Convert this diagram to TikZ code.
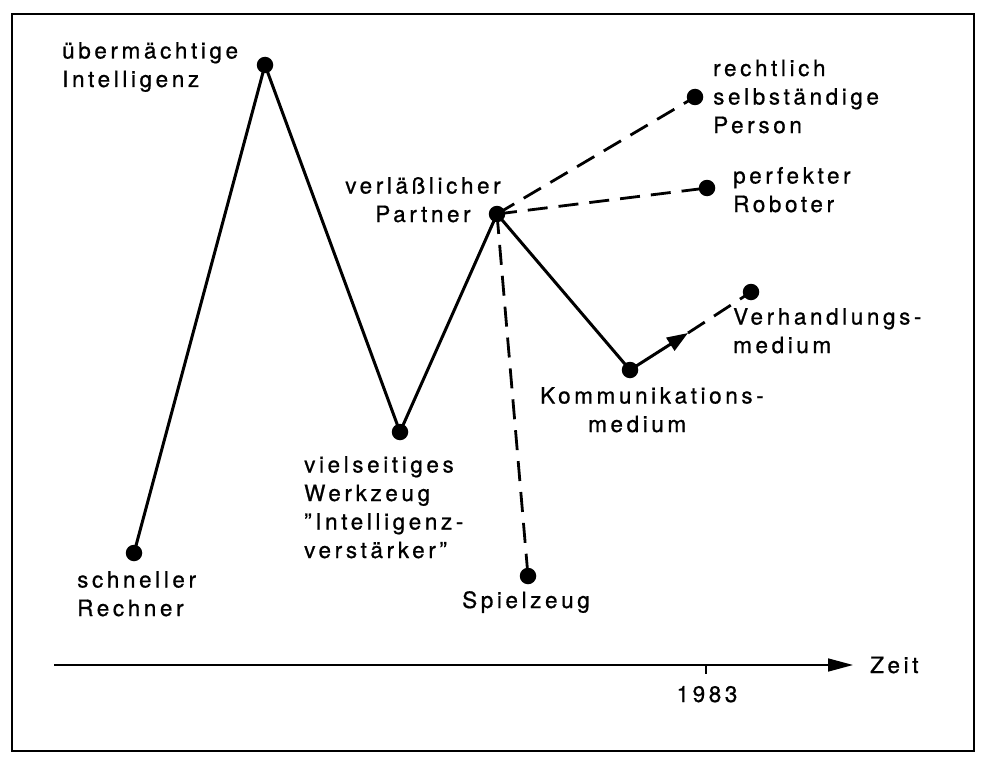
\documentclass[tikz,border=0pt]{standalone}
\usepackage{fontspec}
\setmainfont[LetterSpace=16,FakeBold=0.8]{TeX Gyre Heros}
\usetikzlibrary{arrows.meta}
\tikzset{
  dot/.style={circle,fill=black,draw=none,minimum size=16.5pt,inner sep=0pt},
  lbl/.style={inner sep=0pt,font=\fontsize{22.5pt}{28.5pt}\selectfont},
  solidline/.style={line width=3pt},
  dashline/.style={line width=2.8pt,dash pattern=on 20pt off 11pt},
}
\begin{document}
\begin{tikzpicture}[x=1pt,y=-1pt]
\useasboundingbox (0,0) rectangle (986,768);
\fill[white] (0,0) rectangle (986,768);
\draw[line width=2.2pt] (12,14) rectangle (974,751);
% dots
\node[dot] (rech) at (134,553) {};
\node[dot] (intel) at (265,65) {};
\node[dot] (werk) at (400,432) {};
\node[dot] (part) at (497,214) {};
\node[dot] (spiel) at (528,576) {};
\node[dot] (kom) at (630,370) {};
\node[dot] (verh) at (751,292) {};
\node[dot] (robo) at (707,188) {};
\node[dot] (pers) at (695,97) {};
\coordinate (tip) at (688,333);
% connectors
\draw[solidline,line join=miter] (rech.center) -- (intel.center) -- (werk.center) -- (part.center) -- (kom.center);
\draw[dashline] (part.center) -- (pers.center);
\draw[dashline] (part.center) -- (robo.center);
\draw[dashline] (part.center) -- (spiel.center);
\draw[solidline,-{Triangle[length=21pt,width=15pt]}] (kom.center) -- (tip);
\draw[dashline,dash phase=0pt] (tip) -- (verh.center);
% axis
\coordinate (axL) at (54,665);
\coordinate (axR) at (853,665);
\coordinate (tk) at (706,665);
\coordinate (tkb) at (706,674);
\draw[line width=1.6pt,-{Triangle[length=25pt,width=13pt]}] (axL) -- (axR);
\draw[line width=1.6pt] (tk) -- (tkb);
\node[lbl,anchor=base west] (zeit) at (870,673) {Zeit};
\node[lbl,anchor=base] (jahr) at (707,702) {1983};
% labels (base anchor = baseline of last line)
\node[lbl,anchor=base west,align=left] (l1) at (62,87) {übermächtige\\Intelligenz};
\node[lbl,anchor=base west,align=left] (l2) at (77,616) {schneller\\Rechner};
\node[lbl,anchor=base west,align=left] (l3) at (304,558) {vielseitiges\\Werkzeug\\”Intelligenz-\\verstärker”};
\node[lbl,anchor=base,align=center] (l4) at (423,222) {verläßlicher\\Partner};
\node[lbl,anchor=base west] (l5) at (462,608) {Spielzeug};
\node[lbl,anchor=base west,align=left] (l6) at (540,432) {Kommunikations-\\\hspace*{48pt}medium};
\node[lbl,anchor=base west,align=left] (l7) at (733,353) {Verhandlungs-\\medium};
\node[lbl,anchor=base west,align=left] (l8) at (733,212) {perfekter\\Roboter};
\node[lbl,anchor=base west,align=left] (l9) at (713,133) {rechtlich\\selbständige\\Person};
\end{tikzpicture}
\end{document}
